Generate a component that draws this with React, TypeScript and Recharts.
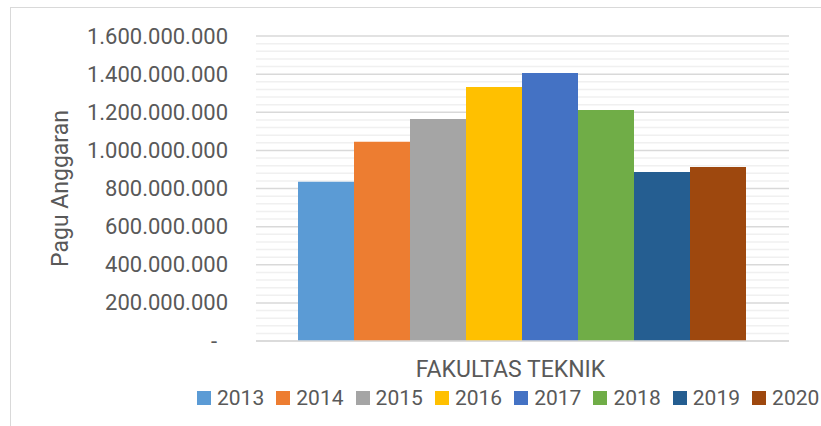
import React from 'react';
import { BarChart, Bar, XAxis, YAxis, CartesianGrid, Legend } from 'recharts';

const years = ['2013', '2014', '2015', '2016', '2017', '2018', '2019', '2020'];
const pagu = [835000000, 1045000000, 1165000000, 1333000000, 1406000000, 1212000000, 887000000, 913000000];
const category = 'FAKULTAS TEKNIK';
const yTicks = [0, 200000000, 400000000, 600000000, 800000000, 1000000000, 1200000000, 1400000000, 1600000000];

const colors = ['#5B9BD5', '#ED7D31', '#A5A5A5', '#FFC000', '#4472C4', '#70AD47', '#255E91', '#9E480E'];

const row: Record<string, string | number> = { name: category };
years.forEach((y, i) => {
  row[y] = pagu[i];
});
const data = [row];

// light gridlines every 40M between the major ones
const minorLines: number[] = [];
for (let v = 40000000; v < 1600000000; v += 40000000) {
  if (v % 200000000 !== 0) minorLines.push(v);
}

const FONT = 'Roboto, "Open Sans", sans-serif';
const TEXT = '#595959';

const fmt = (v: number) => String(v).replace(/\B(?=(\d{3})+(?!\d))/g, '.');

const YTick = (props: any) => {
  const { x, y, payload } = props;
  const zero = payload.value === 0;
  return (
    <text x={zero ? x - 11 : x} y={y} dy={7.5} textAnchor="end" fill={TEXT} fontSize={22} fontFamily={FONT}>
      {zero ? '-' : fmt(payload.value)}
    </text>
  );
};

const XTick = (props: any) => {
  const { x, y, payload } = props;
  return (
    <text x={x} y={y} dx={-12} dy={36} textAnchor="middle" fill={TEXT} fontSize={23} fontFamily={FONT}>
      {payload.value}
    </text>
  );
};

const YLabel = (props: any) => {
  const { viewBox } = props;
  const cx = 60;
  const cy = viewBox.y + viewBox.height / 2;
  return (
    <text
      x={cx}
      y={cy}
      transform={`rotate(-90, ${cx}, ${cy})`}
      textAnchor="middle"
      dy={7.5}
      fill={TEXT}
      fontSize={23}
      fontFamily={FONT}
    >
      Pagu Anggaran
    </text>
  );
};

const LegendContent = () => (
  <div style={{ display: 'flex', paddingLeft: 197, height: 30, alignItems: 'center', fontFamily: FONT }}>
    {years.map((y, i) => (
      <div key={y} style={{ width: 79.3, display: 'flex', alignItems: 'center', flexShrink: 0 }}>
        <span style={{ width: 14, height: 14, background: colors[i], marginRight: 6, display: 'inline-block' }} />
        <span style={{ fontSize: 21, color: TEXT, lineHeight: '30px' }}>{y}</span>
      </div>
    ))}
  </div>
);

export default function App() {
  return (
    <div style={{ position: 'absolute', left: 0, top: 0, width: 821, height: 426, overflow: 'hidden', background: '#fff' }}>
      <div
        style={{
          position: 'absolute',
          left: 10,
          top: 7,
          width: 840,
          height: 440,
          borderLeft: '1.5px solid #d9d9d9',
          borderTop: '1.5px solid #d9d9d9',
        }}
      />
      <BarChart
        width={821}
        height={426}
        data={data}
        margin={{ top: 36, right: 32, bottom: 13, left: 0 }}
        barCategoryGap={42}
        barGap={0}
      >
        <CartesianGrid vertical={false} horizontalValues={minorLines} stroke="#f0f0f0" strokeWidth={1.5} />
        <CartesianGrid vertical={false} horizontalValues={yTicks} stroke="#d9d9d9" strokeWidth={1.5} />
        <XAxis
          dataKey="name"
          height={42}
          axisLine={{ stroke: '#d9d9d9', strokeWidth: 1.5 }}
          tickLine={false}
          tickSize={0}
          tickMargin={0}
          tick={<XTick />}
        />
        <YAxis
          width={256}
          domain={[0, 1600000000]}
          ticks={yTicks}
          interval={0}
          axisLine={false}
          tickLine={false}
          tickSize={0}
          tickMargin={28}
          tick={<YTick />}
          label={<YLabel />}
        />
        <Legend verticalAlign="bottom" content={<LegendContent />} />
        {years.map((y, i) => (
          <Bar key={y} dataKey={y} fill={colors[i]} isAnimationActive={false} />
        ))}
      </BarChart>
    </div>
  );
}
